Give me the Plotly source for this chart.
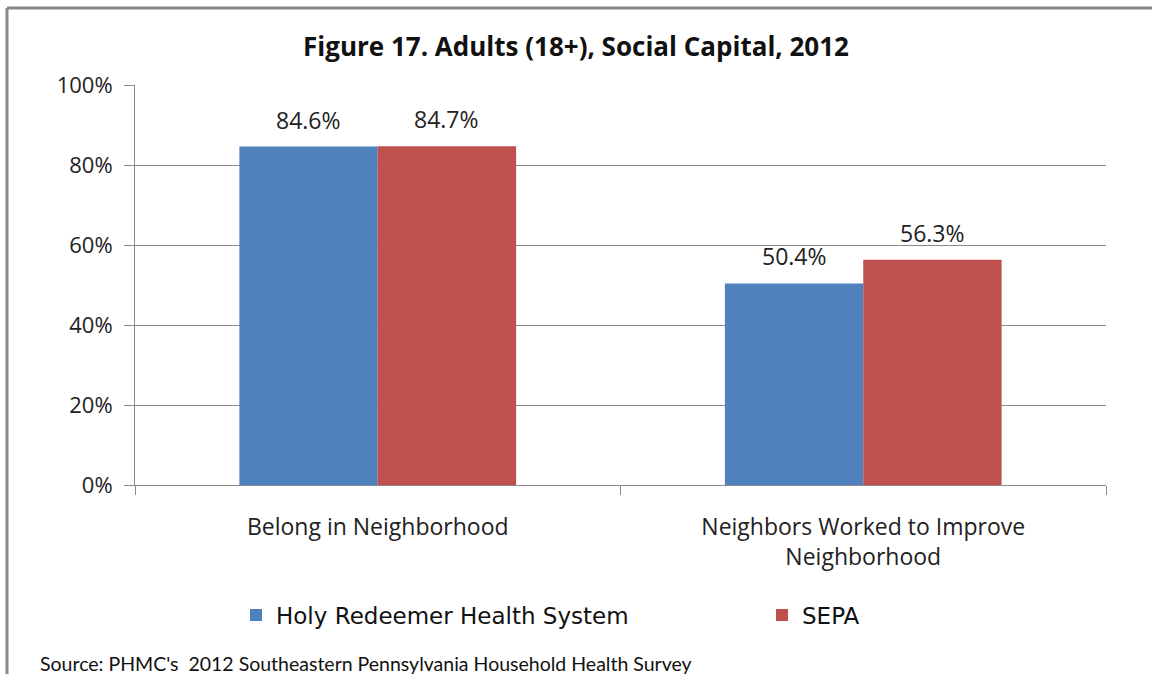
import plotly.graph_objects as go

categories = ["Belong in Neighborhood", "Neighbors Worked to Improve<br>Neighborhood"]
holy_redeemer = [84.6, 50.4]
sepa = [84.7, 56.3]
series_names = ["Holy Redeemer Health System", "SEPA"]
colors = ["#4F81BD", "#C0504D"]
y_ticks = [0, 20, 40, 60, 80, 100]
y_tick_labels = ["0%", "20%", "40%", "60%", "80%", "100%"]
title = "Figure 17. Adults (18+), Social Capital, 2012"
source = "Source: PHMC's  2012 Southeastern Pennsylvania Household Health Survey"

FONT = "Open Sans"
BARGAP = 0.43
legend_ids = ["legend", "legend2"]

fig = go.Figure()
for name, vals, col, lg in zip(series_names, [holy_redeemer, sepa], colors, legend_ids):
    fig.add_trace(go.Bar(
        x=categories, y=vals, name=name, legend=lg,
        marker=dict(color=col, line=dict(width=0)),
    ))

# value labels above bars (positioned from the grouped-bar layout)
n_series = 2
bar_w = (1 - BARGAP) / n_series
for s, vals in enumerate([holy_redeemer, sepa]):
    for i, v in enumerate(vals):
        xpos = i - (1 - BARGAP) / 2 + bar_w * (s + 0.5)
        fig.add_annotation(x=xpos, y=v, text=f"{v:.1f}%", showarrow=False,
                           yanchor="bottom", yshift=9,
                           font=dict(family=FONT, size=23, color="#222"))

legend_font = dict(family="DejaVu Sans", size=23, color="#111")
fig.update_layout(
    width=1152, height=674,
    margin=dict(l=135, r=46, t=85, b=189),
    paper_bgcolor="white", plot_bgcolor="white",
    barmode="group", bargap=BARGAP, bargroupgap=0,
    font=dict(family=FONT, color="#111"),
    title=dict(text="<b>" + title + "</b>", x=0.5, xanchor="center", y=1 - 47 / 674, yanchor="middle",
               font=dict(family=FONT, size=26, color="#111")),
    legend=dict(orientation="h", x=(236 - 135) / 971, xanchor="left", y=(485 - 615) / 400, yanchor="middle",
                font=legend_font, itemwidth=30),
    legend2=dict(orientation="h", x=(762 - 135) / 971, xanchor="left", y=(485 - 615) / 400, yanchor="middle",
                 font=legend_font, itemwidth=30),
    showlegend=True,
)
fig.update_yaxes(range=[0, 100], tickvals=y_ticks, ticktext=y_tick_labels,
                 showgrid=True, gridcolor="#8a8a8a", gridwidth=1,
                 showline=True, linecolor="#8a8a8a", linewidth=1,
                 ticks="outside", ticklen=10, tickcolor="#8a8a8a",
                 ticklabelstandoff=7,
                 tickfont=dict(family=FONT, size=22, color="#222"), zeroline=False)
fig.update_xaxes(type="category", range=[-0.5, len(categories) - 0.5],
                 showline=True, linecolor="#8a8a8a", linewidth=1,
                 ticks="outside", tickson="boundaries", ticklen=9, tickcolor="#8a8a8a",
                 tickfont=dict(family=FONT, size=23, color="#222"), showgrid=False,
                 ticklabelstandoff=21)

# frame lines
fx = (7 - 135) / 971
fy = (485 - 8) / 400
fig.add_shape(type="line", xref="paper", yref="paper", x0=fx, x1=fx,
              y0=fy, y1=-0.6, line=dict(color="#8a8a8a", width=3))
fig.add_shape(type="line", xref="paper", yref="paper", x0=fx, x1=1.1,
              y0=fy, y1=fy, line=dict(color="#8a8a8a", width=3))

fig.add_annotation(text=source, xref="paper", yref="paper", x=(38 - 135) / 971, xanchor="left",
                   y=(485 - 663) / 400, yanchor="middle", showarrow=False,
                   font=dict(family="Lato", size=19.5, color="#111"))

fig.write_html("out.html", config={"displayModeBar": False},
               post_script="document.body.style.margin='0';")
